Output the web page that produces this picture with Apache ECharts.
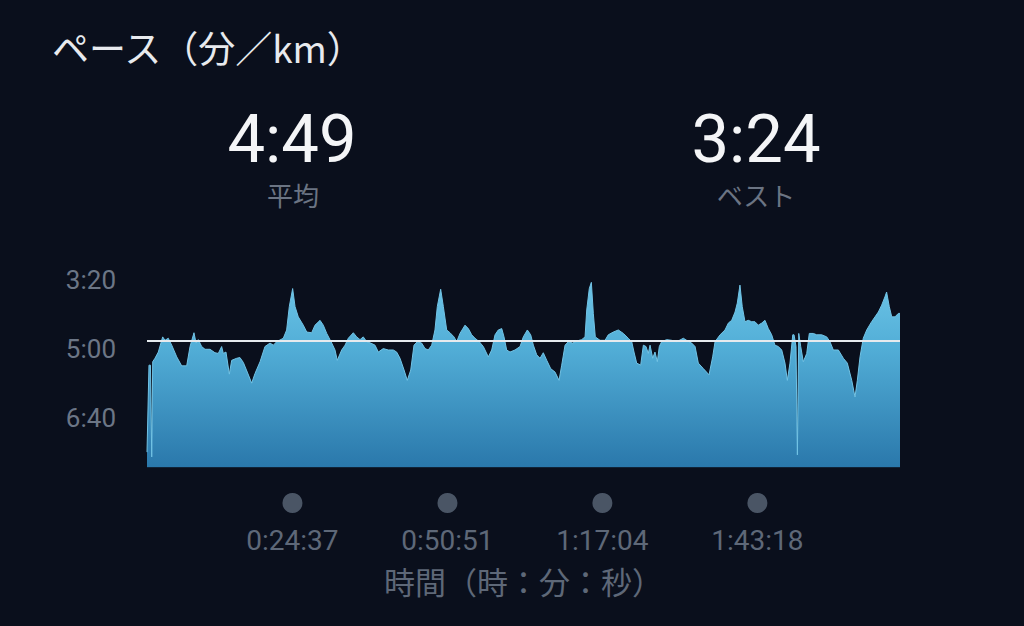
<!DOCTYPE html>
<html>
<head>
<meta charset="utf-8">
<script src="https://cdn.jsdelivr.net/npm/echarts@6/dist/echarts.min.js"></script>
<style>
html,body{margin:0;padding:0;background:#0a0f1c;}
#chart{width:1024px;height:626px;}
</style>
</head>
<body>
<div id="chart"></div>
<script>
// elapsed time (seconds)
const timeSec = [
  0,20,35,48,58,81,115,159,183,216,251,302,352,403,437,477,498,521,555,589,
  640,690,724,758,775,802,836,860,911,944,978,1018,1063,1097,1148,1198,1249,1283,1317,1384,
  1418,1445,1479,1503,1536,1587,1622,1672,1706,1757,1790,1825,1876,1909,
  1932,1977,2011,2044,2095,2129,2163,2196,2231,2272,2315,2349,2399,2450,2501,2535,2569,2610,2643,2678,
  2711,2745,2789,2823,2856,2891,2924,2948,2982,3009,3043,3077,3117,3145,3178,3229,3263,3297,3331,3374,
  3415,3466,3500,3534,3567,3602,3625,3652,3686,3737,3788,
  3821,3862,3896,3923,3957,3991,4024,4059,4099,4143,4184,4211,4245,4278,4323,4363,4414,4448,4465,4491,
  4512,4532,4552,4600,4651,4684,4735,4786,4837,4887,4922,4945,4972,5013,5040,5067,5090,5108,5135,5158,
  5182,5202,5226,5277,5328,5379,5446,5480,5531,5565,5598,5649,5707,5744,5768,
  5819,5869,5903,5937,5971,5994,6021,6044,6072,6105,6140,6173,6207,6242,6275,6309,6343,6376,6411,6445,
  6478,6502,6529,6557,6570,6590,6604,6618,6638,6664,6699,6725,6766,6800,6851,6902,6935,6969,7020,7071,
  7111,7156,7189,7213,7240,7273,7308,7358,7392,7426,7460,7493,7510,7537,7562,7595,7629,7646
];
// pace (seconds per km)
const paceSec = [
  450,324,324,457,319,314,305,283,288,285,295,312,325,325,297,277,292,287,297,301,
  301,306,307,297,307,305,337,317,314,313,320,334,350,336,319,297,292,295,290,285,
  273,239,213,239,254,266,276,277,266,259,266,278,292,302,
  317,302,295,285,277,283,287,283,290,292,295,305,300,302,302,305,314,331,346,331,
  295,290,292,300,302,295,273,239,214,239,273,277,283,290,278,266,271,280,285,290,
  297,312,302,280,273,271,283,302,305,302,297,
  283,273,280,295,309,314,306,317,329,334,346,324,295,290,292,289,287,283,244,213,
  204,249,283,288,288,280,276,273,278,285,290,305,321,324,295,297,307,295,314,305,
  319,297,290,287,288,290,285,288,292,297,321,329,338,312,290,
  280,273,263,259,247,234,208,239,261,259,261,261,266,263,259,271,280,295,297,302,
  321,346,321,280,280,297,454,278,297,319,307,278,278,280,280,283,290,302,302,314,
  321,346,370,346,312,285,273,261,254,247,237,225,218,239,254,254,249,249
];
const avgPace = 289;   // 4:49
const bestPace = 204;  // 3:24
const xTickTimes = [1477, 3051, 4624, 6198];
const totalTime = 7646;
const paceMin = 200, paceMax = 472, paceInterval = 100;

const titleText = 'ペース（分／km）';
const avgLabel = '平均';
const bestLabel = 'ベスト';
const xAxisName = '時間（時：分：秒）';

function mss(v){ v = Math.round(v); const m = Math.floor(v/60), s = v%60; return m + ':' + (s<10?'0':'') + s; }
function hmmss(v){ v = Math.round(v); const h = Math.floor(v/3600), m = Math.floor((v%3600)/60), s = v%60;
  return h + ':' + (m<10?'0':'') + m + ':' + (s<10?'0':'') + s; }

const lineData = timeSec.map((t,i)=>[t, paceSec[i]]);
const dotData = xTickTimes.map(t=>[t, 0.5]);

const chart = echarts.init(document.getElementById('chart'), null, {renderer:'svg'});
const cjk = '"Noto Sans CJK JP", "Noto Sans", sans-serif';
const num = 'Roboto, "Liberation Sans", sans-serif';
chart.setOption({
  backgroundColor: '#0a0f1c',
  animation: false,
  title: [
    {text: titleText, left: 52, top: 26, padding:0, textStyle:{color:'#e8eaee', fontSize:37, lineHeight:42, fontWeight:'normal', fontFamily:cjk}},
    {text: mss(avgPace), left: 292, top: 113, padding:0, textAlign:'center', textStyle:{color:'#f4f5f7', fontSize:67, lineHeight:52, fontWeight:'normal', fontFamily:num}},
    {text: avgLabel, left: 293, top: 181, padding:0, textAlign:'center', textStyle:{color:'#6b7483', fontSize:26, lineHeight:26, fontWeight:'normal', fontFamily:cjk}},
    {text: mss(bestPace), left: 756, top: 113, padding:0, textAlign:'center', textStyle:{color:'#f4f5f7', fontSize:67, lineHeight:52, fontWeight:'normal', fontFamily:num}},
    {text: bestLabel, left: 756, top: 181, padding:0, textAlign:'center', textStyle:{color:'#6b7483', fontSize:26, lineHeight:26, fontWeight:'normal', fontFamily:cjk}}
  ],
  grid: [
    {left:147, right:124, top:279.6, height:187.7, containLabel:false},
    {left:147, right:124, top:493, height:20, containLabel:false}
  ],
  xAxis: [
    {type:'value', gridIndex:0, min:0, max:totalTime, show:false},
    {type:'value', gridIndex:1, min:0, max:totalTime,
     axisLine:{show:false}, axisTick:{show:false}, splitLine:{show:false},
     axisLabel:{customValues:xTickTimes, formatter:(v)=>hmmss(v), color:'#5e6878', fontSize:28, lineHeight:28, margin:13, fontFamily:num},
     name: xAxisName, nameLocation:'middle', nameGap:52,
     nameTextStyle:{color:'#5e6878', fontSize:31, lineHeight:31, fontFamily:cjk}}
  ],
  yAxis: [
    {type:'value', gridIndex:0, inverse:true, min:paceMin, max:paceMax, interval:paceInterval,
     axisLine:{show:false}, axisTick:{show:false}, splitLine:{show:false},
     axisLabel:{formatter:(v)=>mss(v), color:'#6c7686', fontSize:26, margin:31, showMaxLabel:false, fontFamily:num}},
    {type:'value', gridIndex:1, min:0, max:1, show:false}
  ],
  series: [
    {
      type:'line', xAxisIndex:0, yAxisIndex:0, data: lineData,
      symbol:'none', smooth:false,
      lineStyle:{color:'#72c3e5', width:1},
      areaStyle:{origin:'end', opacity:1,
        color: new echarts.graphic.LinearGradient(0,0,0,1,[
          {offset:0, color:'#6cc4e6'},
          {offset:0.35, color:'#52aed7'},
          {offset:1, color:'#2a78ab'}
        ])},
      markLine:{
        silent:true, symbol:['none','none'], label:{show:false},
        lineStyle:{color:'#e6eaee', width:2, type:'solid'},
        data:[{yAxis: avgPace}]
      },
      z:2
    },
    {
      type:'scatter', xAxisIndex:1, yAxisIndex:1, data: dotData,
      symbol:'circle', symbolSize:20, itemStyle:{color:'#5a6678'}, silent:true
    }
  ]
});
</script>
</body>
</html>
